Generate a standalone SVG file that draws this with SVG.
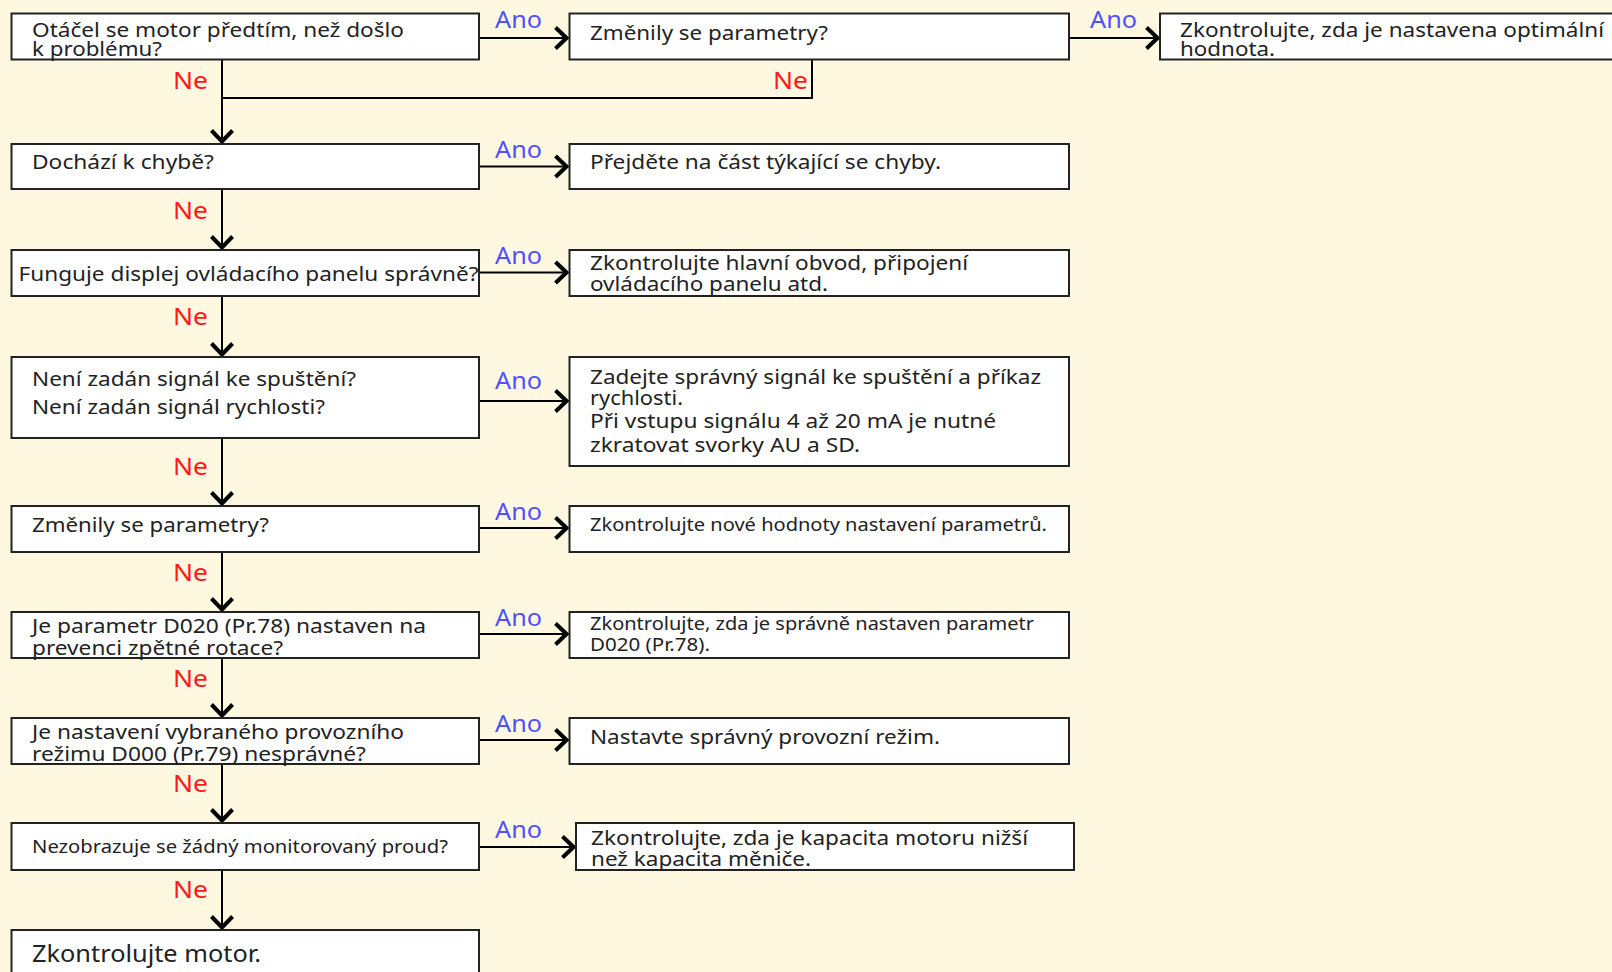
<svg xmlns="http://www.w3.org/2000/svg" width="1612" height="972" viewBox="0 0 1612 972">
<defs>
<style>
.bg{fill:#fef8e1}
.box{fill:#fff;stroke:#222;stroke-width:2}
.t{font-family:"Noto Sans","Open Sans",sans-serif;font-size:20px;fill:#222}
.ts{font-family:"Noto Sans","Open Sans",sans-serif;font-size:18px;fill:#222}
.tl{font-family:"Noto Sans","Open Sans",sans-serif;font-size:23px;fill:#222}
.ano{font-family:"Noto Sans","Open Sans",sans-serif;font-size:23px;fill:#5050ff}
.ne{font-family:"Noto Sans","Open Sans",sans-serif;font-size:24px;fill:#ff1a1a}
.c{fill:none;stroke:#000;stroke-width:2}
.a{fill:none;stroke:#000;stroke-width:2;marker-end:url(#ah)}
</style>
<marker id="ah" viewBox="0 0 16 26" refX="15" refY="13" markerWidth="16" markerHeight="26" markerUnits="userSpaceOnUse" orient="auto">
<path d="M2.5,2.5 L13.5,13 L2.5,23.5" fill="none" stroke="#000" stroke-width="4" stroke-linejoin="miter"/>
</marker>
</defs>
<rect class="bg" x="0" y="0" width="1612" height="972"/>

<g id="connectors">
<path class="a" d="M479,38 H568"/>
<path class="a" d="M1069,38 H1159"/>
<path class="a" d="M222,60 V143"/>
<path class="c" d="M222,98 H812 V60"/>
<path class="a" d="M479,166.5 H568"/>
<path class="a" d="M222,189 V249"/>
<path class="a" d="M479,272.5 H568"/>
<path class="a" d="M222,296 V356"/>
<path class="a" d="M479,401 H568"/>
<path class="a" d="M222,438 V505"/>
<path class="a" d="M479,528 H568"/>
<path class="a" d="M222,552 V611"/>
<path class="a" d="M479,634 H568"/>
<path class="a" d="M222,658 V717"/>
<path class="a" d="M479,740 H568"/>
<path class="a" d="M222,764 V822"/>
<path class="a" d="M479,847 H575"/>
<path class="a" d="M222,870 V929"/>
</g>

<g id="labels">
<text class="ano" x="495" y="28" textLength="47" lengthAdjust="spacingAndGlyphs">Ano</text>
<text class="ano" x="1090" y="28" textLength="47" lengthAdjust="spacingAndGlyphs">Ano</text>
<text class="ne" x="173" y="89" textLength="35" lengthAdjust="spacingAndGlyphs">Ne</text>
<text class="ne" x="773" y="89" textLength="35" lengthAdjust="spacingAndGlyphs">Ne</text>
<text class="ano" x="495" y="158" textLength="47" lengthAdjust="spacingAndGlyphs">Ano</text>
<text class="ne" x="173" y="219" textLength="35" lengthAdjust="spacingAndGlyphs">Ne</text>
<text class="ano" x="495" y="264" textLength="47" lengthAdjust="spacingAndGlyphs">Ano</text>
<text class="ne" x="173" y="325" textLength="35" lengthAdjust="spacingAndGlyphs">Ne</text>
<text class="ano" x="495" y="389" textLength="47" lengthAdjust="spacingAndGlyphs">Ano</text>
<text class="ne" x="173" y="475" textLength="35" lengthAdjust="spacingAndGlyphs">Ne</text>
<text class="ano" x="495" y="520" textLength="47" lengthAdjust="spacingAndGlyphs">Ano</text>
<text class="ne" x="173" y="581" textLength="35" lengthAdjust="spacingAndGlyphs">Ne</text>
<text class="ano" x="495" y="626" textLength="47" lengthAdjust="spacingAndGlyphs">Ano</text>
<text class="ne" x="173" y="687" textLength="35" lengthAdjust="spacingAndGlyphs">Ne</text>
<text class="ano" x="495" y="732" textLength="47" lengthAdjust="spacingAndGlyphs">Ano</text>
<text class="ne" x="173" y="792" textLength="35" lengthAdjust="spacingAndGlyphs">Ne</text>
<text class="ano" x="495" y="838" textLength="47" lengthAdjust="spacingAndGlyphs">Ano</text>
<text class="ne" x="173" y="898" textLength="35" lengthAdjust="spacingAndGlyphs">Ne</text>
</g>

<g id="n1">
<rect class="box" x="11.5" y="13.5" width="467.5" height="46"/>
<text class="t" x="32" y="37" textLength="372" lengthAdjust="spacingAndGlyphs">Otáčel se motor předtím, než došlo</text>
<text class="t" x="32" y="56" textLength="130" lengthAdjust="spacingAndGlyphs">k problému?</text>
</g>
<g id="n2">
<rect class="box" x="569.5" y="13.5" width="499.5" height="46"/>
<text class="t" x="590" y="40" textLength="238" lengthAdjust="spacingAndGlyphs">Změnily se parametry?</text>
</g>
<g id="n3">
<rect class="box" x="1160" y="13.5" width="460" height="46"/>
<text class="t" x="1180" y="37" textLength="424" lengthAdjust="spacingAndGlyphs">Zkontrolujte, zda je nastavena optimální</text>
<text class="t" x="1180" y="56" textLength="95" lengthAdjust="spacingAndGlyphs">hodnota.</text>
</g>
<g id="n4">
<rect class="box" x="11.5" y="144" width="467.5" height="45"/>
<text class="t" x="32" y="169" textLength="182" lengthAdjust="spacingAndGlyphs">Dochází k chybě?</text>
</g>
<g id="n5">
<rect class="box" x="569.5" y="144" width="499.5" height="45"/>
<text class="t" x="590" y="169" textLength="351" lengthAdjust="spacingAndGlyphs">Přejděte na část týkající se chyby.</text>
</g>
<g id="n6">
<rect class="box" x="11.5" y="250" width="467.5" height="46"/>
<text class="t" x="18.5" y="281" textLength="460" lengthAdjust="spacingAndGlyphs">Funguje displej ovládacího panelu správně?</text>
</g>
<g id="n7">
<rect class="box" x="569.5" y="250" width="499.5" height="46"/>
<text class="t" x="590" y="270" textLength="378" lengthAdjust="spacingAndGlyphs">Zkontrolujte hlavní obvod, připojení</text>
<text class="t" x="590" y="291" textLength="238" lengthAdjust="spacingAndGlyphs">ovládacího panelu atd.</text>
</g>
<g id="n8">
<rect class="box" x="11.5" y="357" width="467.5" height="81"/>
<text class="t" x="32" y="386" textLength="324" lengthAdjust="spacingAndGlyphs">Není zadán signál ke spuštění?</text>
<text class="t" x="32" y="414" textLength="293" lengthAdjust="spacingAndGlyphs">Není zadán signál rychlosti?</text>
</g>
<g id="n9">
<rect class="box" x="569.5" y="357" width="499.5" height="109"/>
<text class="t" x="590" y="384" textLength="451" lengthAdjust="spacingAndGlyphs">Zadejte správný signál ke spuštění a příkaz</text>
<text class="t" x="590" y="405" textLength="93" lengthAdjust="spacingAndGlyphs">rychlosti.</text>
<text class="t" x="590" y="428" textLength="406" lengthAdjust="spacingAndGlyphs">Při vstupu signálu 4 až 20 mA je nutné</text>
<text class="t" x="590" y="452" textLength="270" lengthAdjust="spacingAndGlyphs">zkratovat svorky AU a SD.</text>
</g>
<g id="n10">
<rect class="box" x="11.5" y="506" width="467.5" height="46"/>
<text class="t" x="32" y="532" textLength="237" lengthAdjust="spacingAndGlyphs">Změnily se parametry?</text>
</g>
<g id="n11">
<rect class="box" x="569.5" y="506" width="499.5" height="46"/>
<text class="ts" x="590" y="531" textLength="457" lengthAdjust="spacingAndGlyphs">Zkontrolujte nové hodnoty nastavení parametrů.</text>
</g>
<g id="n12">
<rect class="box" x="11.5" y="612" width="467.5" height="46"/>
<text class="t" x="32" y="633" textLength="394" lengthAdjust="spacingAndGlyphs">Je parametr D020 (Pr.78) nastaven na</text>
<text class="t" x="32" y="655" textLength="251" lengthAdjust="spacingAndGlyphs">prevenci zpětné rotace?</text>
</g>
<g id="n13">
<rect class="box" x="569.5" y="612" width="499.5" height="46"/>
<text class="ts" x="590" y="630" textLength="444" lengthAdjust="spacingAndGlyphs">Zkontrolujte, zda je správně nastaven parametr</text>
<text class="ts" x="590" y="651" textLength="120" lengthAdjust="spacingAndGlyphs">D020 (Pr.78).</text>
</g>
<g id="n14">
<rect class="box" x="11.5" y="718" width="467.5" height="46"/>
<text class="t" x="32" y="739" textLength="372" lengthAdjust="spacingAndGlyphs">Je nastavení vybraného provozního</text>
<text class="t" x="32" y="761" textLength="334" lengthAdjust="spacingAndGlyphs">režimu D000 (Pr.79) nesprávné?</text>
</g>
<g id="n15">
<rect class="box" x="569.5" y="718" width="499.5" height="46"/>
<text class="t" x="590" y="744" textLength="350" lengthAdjust="spacingAndGlyphs">Nastavte správný provozní režim.</text>
</g>
<g id="n16">
<rect class="box" x="11.5" y="823" width="467.5" height="47"/>
<text class="ts" x="32" y="853" textLength="416" lengthAdjust="spacingAndGlyphs">Nezobrazuje se žádný monitorovaný proud?</text>
</g>
<g id="n17">
<rect class="box" x="576" y="823" width="498" height="47"/>
<text class="t" x="591" y="845" textLength="437" lengthAdjust="spacingAndGlyphs">Zkontrolujte, zda je kapacita motoru nižší</text>
<text class="t" x="591" y="866" textLength="220" lengthAdjust="spacingAndGlyphs">než kapacita měniče.</text>
</g>
<g id="n18">
<rect class="box" x="11.5" y="930" width="467.5" height="60"/>
<text class="tl" x="32" y="962" textLength="229" lengthAdjust="spacingAndGlyphs">Zkontrolujte motor.</text>
</g>
</svg>
